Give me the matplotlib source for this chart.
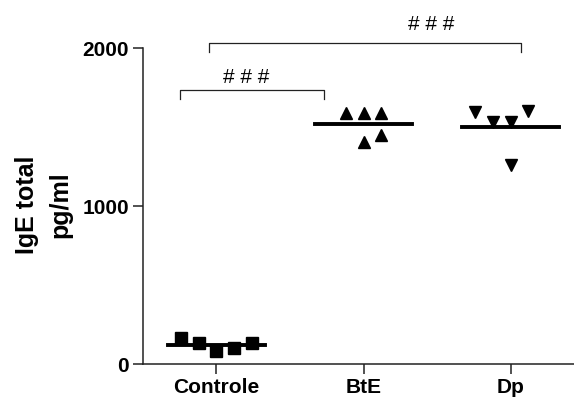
import matplotlib.pyplot as plt
import numpy as np

plt.rcParams['font.family'] = ['Liberation Sans', 'DejaVu Sans']

groups = ['Controle', 'BtE', 'Dp']
controle = [165, 133, 83, 100, 133]
bte = [1587, 1587, 1587, 1403, 1448]
dp = [1594, 1530, 1530, 1600, 1263]
values = [controle, bte, dp]
# horizontal spread of points inside each column
spread = [[-0.24, -0.12, 0, 0.12, 0.24],
          [-0.12, 0, 0.12, 0, 0.12],
          [-0.24, -0.12, 0, 0.12, 0]]
markers = ['s', '^', 'v']

# significance brackets: (x start, x end, y, label x, label y)
brackets = [(-0.25, 0.73, 1734, 0.2, 1816),
            (-0.05, 2.07, 2032, 1.46, 2152)]
sig_label = '# # #'

fig = plt.figure(figsize=(5.74, 4.01), dpi=100)
ax = fig.add_axes([0.249, 0.092, 0.769, 0.788])

for i, (vals, off, m) in enumerate(zip(values, spread, markers)):
    xs = i + np.array(off)
    ax.plot(xs, vals, linestyle='none', marker=m, color='black',
            markersize=9, zorder=3)
    mean = np.mean(vals)
    ax.plot([i - 0.33, i + 0.33], [mean, mean], color='black', lw=2.8, zorder=2)

for x0, x1, y, lx, ly in brackets:
    ax.plot([x0, x0, x1, x1], [y - 55, y, y, y - 55], color='#222222', lw=0.9,
            clip_on=False)
    ax.text(lx, ly, sig_label, ha='center', va='center', fontsize=15)

ax.set_xlim(-0.5, 2.5)
ax.set_ylim(0, 2000)
ax.set_xticks(range(3))
ax.set_xticklabels(groups, fontsize=15, fontweight='bold')
ax.set_yticks([0, 1000, 2000])
ax.set_yticklabels(['0', '1000', '2000'], fontsize=15, fontweight='bold')
ax.spines['right'].set_color('none')
ax.spines['top'].set_color('none')
for s in ['left', 'bottom']:
    ax.spines[s].set_linewidth(1.1)
    ax.spines[s].set_color('#222222')
ax.tick_params(length=7, width=1.1, color='#222222', pad=3)

fig.text(0.047, 0.49, 'IgE total', rotation=90, ha='center', va='center',
         fontsize=18, fontweight='bold')
fig.text(0.105, 0.49, 'pg/ml', rotation=90, ha='center', va='center',
         fontsize=18, fontweight='bold')

plt.savefig('out.png', dpi=100)
